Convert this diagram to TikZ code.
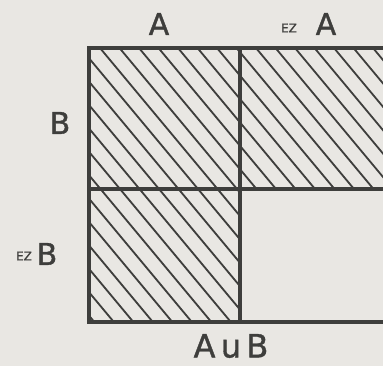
\documentclass[tikz,border=0pt]{standalone}
\usepackage{fontspec}
\setmainfont{DejaVu Sans}
\newfontfamily\lblfont[FakeBold=1.2]{DejaVu Sans}
\newfontfamily\smlfont[FakeBold=1.5]{DejaVu Sans}
\definecolor{bgc}{HTML}{E9E7E3}
\definecolor{ink}{HTML}{3E3E3C}
\begin{document}
\begin{tikzpicture}[x=1pt,y=-1pt,
  frame/.style={line width=3.2pt, draw=ink},
  hatch/.style={line width=1.8pt, draw=ink},
  lbl/.style={font=\lblfont\fontsize{30}{30}\selectfont, text=ink, inner sep=0pt},
  big/.style={font=\lblfont\fontsize{32}{32}\selectfont, text=ink, inner sep=0pt},
  sml/.style={font=\smlfont\fontsize{12}{12}\selectfont, text=ink, inner sep=0pt}]
\fill[bgc] (0,0) rectangle (383,366);
\useasboundingbox (0,0) rectangle (383,366);
% hatched L-shaped region
\begin{scope}
  \clip (89,48) -- (383,48) -- (383,189) -- (240,189) -- (240,322) -- (89,322) -- cycle;
  \foreach \k in {-13,...,16}
    \draw[hatch] (100+19.5*\k,48) -- ++(250,300);
\end{scope}
% frame
\draw[frame] (383,48) -- (89,48) -- (89,322) -- (383,322);
\draw[frame] (240,48) -- (240,322);
\draw[frame] (89,189) -- (383,189);
% labels
\node[lbl] (a1) at (159,24) {A};
\node[sml] (ez1) at (289,28) {EZ};
\node[lbl] (a2) at (326,24) {A};
\node[lbl] (b1) at (60,123) {B};
\node[sml] (ez2) at (24,256) {EZ};
\node[lbl] (b2) at (47,254) {B};
\node[big] (aub) at (231,346) {A\,u\,B};
\end{tikzpicture}
\end{document}
